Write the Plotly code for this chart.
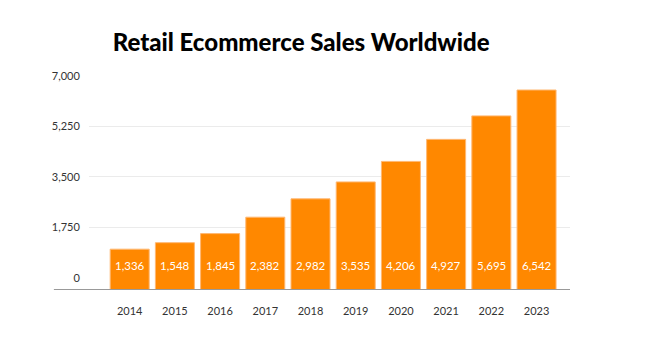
import plotly.graph_objects as go

years = ["2014", "2015", "2016", "2017", "2018", "2019", "2020", "2021", "2022", "2023"]
sales = [1336, 1548, 1845, 2382, 2982, 3535, 4206, 4927, 5695, 6542]
y_ticks = [0, 1750, 3500, 5250, 7000]
y_tick_text = ["0", "1,750", "3,500", "5,250", "7,000"]
title = "Retail Ecommerce Sales Worldwide"

fig = go.Figure()
fig.add_trace(go.Bar(
    x=years, y=sales,
    marker=dict(color="#FF8800", line=dict(color="#FFB873", width=1)),
    hoverinfo="x+y",
))

for i, v in enumerate(sales):
    fig.add_annotation(x=i, xref="x", y=0, yref="y", text=f"{v:,}", showarrow=False,
                       yshift=25, font=dict(family="Lato", size=11.5, color="white"))

# baseline extending under tick labels
fig.add_shape(type="line", xref="paper", yref="y", x0=-0.073, x1=1, y0=0, y1=0,
              line=dict(color="#999999", width=2))

fig.update_layout(
    width=649, height=337,
    margin=dict(l=89, r=79, t=76, b=47),
    paper_bgcolor="white", plot_bgcolor="white",
    bargap=0.137,
    showlegend=False,
    font=dict(family="Lato", size=11, color="#333333"),
    title=dict(text=f"<b>{title}</b>", x=0.464, xref="container", xanchor="center",
               y=0.875, yref="container", yanchor="middle",
               font=dict(family="Lato Black, Lato", size=24, color="#000000", weight=900)),
    # label axis (as drawn in the reference)
    yaxis2=dict(overlaying="y", side="left", range=[-420, 7000], tickvals=y_ticks,
                ticktext=y_tick_text, showgrid=False, zeroline=False, showline=False,
                ticks="outside", ticklen=6, tickcolor="rgba(0,0,0,0)",
                tickfont=dict(family="Lato", size=11, color="#333333"), fixedrange=True),
    # gridline axis
    yaxis3=dict(overlaying="y", side="left", range=[-420, 7000], tickvals=y_ticks[1:],
                showticklabels=False, showgrid=True, gridcolor="#EBEBEB", gridwidth=1,
                zeroline=False, showline=False, fixedrange=True),
)
fig.add_trace(go.Scatter(x=[years[0]], y=[None], yaxis="y2", showlegend=False, hoverinfo="skip"))
fig.add_trace(go.Scatter(x=[years[0]], y=[None], yaxis="y3", showlegend=False, hoverinfo="skip"))

fig.update_xaxes(type="category", range=[-0.9, 9.74], showgrid=False, showline=False,
                 ticks="outside", ticklen=11, tickcolor="rgba(0,0,0,0)",
                 tickfont=dict(family="Lato", size=11, color="#333333"), fixedrange=True)
fig.layout.yaxis.update(range=[0, 7000], showgrid=False, zeroline=False, showline=False,
                        showticklabels=False, fixedrange=True)

fig.write_html("out.html")
